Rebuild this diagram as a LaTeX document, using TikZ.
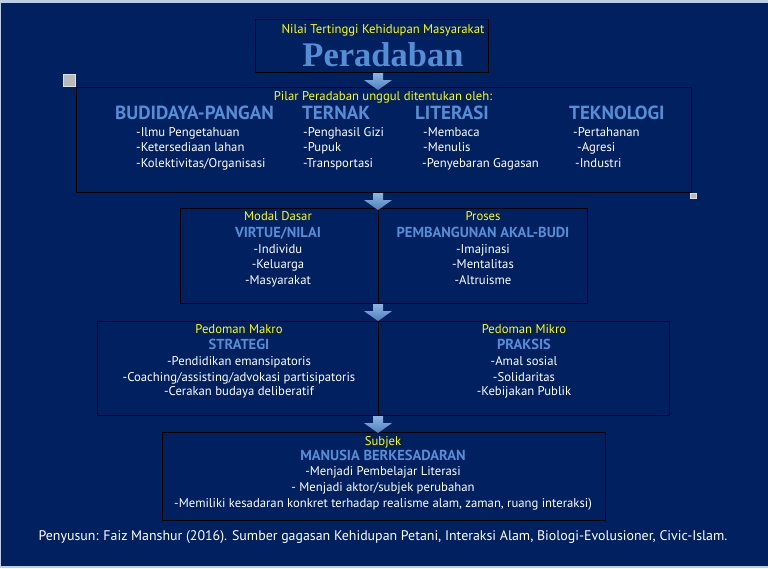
\documentclass[tikz,border=0pt]{standalone}
\usepackage{fontspec}
\setmainfont{PT Sans}
\newfontfamily\serifbold{Liberation Serif}
\definecolor{navy}{HTML}{002060}
\definecolor{edgeblue}{HTML}{BCCDE6}
\definecolor{hblue}{HTML}{558ED5}
\definecolor{ylw}{HTML}{FFFF00}
\definecolor{arrtop}{HTML}{8DB4E2}
\definecolor{arrbot}{HTML}{4F81BD}
\begin{document}
\begin{tikzpicture}[x=1pt,y=-1pt,
  box/.style={draw=black, line width=1pt, fill=navy, inner sep=0pt, anchor=north west},
  txt/.style={inner sep=0pt, text height=10pt, text depth=2pt},
  lab/.style={txt, text=ylw, font=\fontsize{12.7}{14}\selectfont},
  head/.style={inner sep=0pt, text height=11pt, text depth=1pt, text=hblue, font=\bfseries\fontsize{14.5}{16}\selectfont},
  bighead/.style={inner sep=0pt, text height=13pt, text depth=1pt, text=hblue, font=\bfseries\fontsize{19}{21}\selectfont, anchor=west},
  item/.style={txt, text=white, font=\fontsize{12.7}{14}\selectfont},
  itemw/.style={item, anchor=west},
  blockarrow/.style={top color=arrtop, bottom color=arrbot, draw=none},
  divider/.style={draw=black, line width=1pt},
  handle/.style={fill=gray!55, draw=gray!25, line width=0.8pt}
]
\useasboundingbox (0,0) rectangle (768,568);
\fill[edgeblue] (0,0) rectangle (768,568);
\fill[navy] (1,3) rectangle (768,566);

% boxes
\node[box, minimum width=233pt, minimum height=53pt] (b1) at (255,19) {};
\node[box, minimum width=615pt, minimum height=105pt] (b2) at (76,87) {};
\node[box, minimum width=407pt, minimum height=95pt] (b3) at (180,208) {};
\node[box, minimum width=572pt, minimum height=94pt] (b4) at (97,321) {};
\node[box, minimum width=443pt, minimum height=88pt] (b5) at (162,432) {};
\coordinate (ax) at (378,0);
\draw[divider] (b3.north -| ax) -- (b3.south -| ax);
\draw[divider] (b4.north -| ax) -- (b4.south -| ax);

% table handles
\filldraw[handle] (63,74) rectangle (75,86);
\filldraw[handle] (690,193) rectangle (696,198);

% top box
\node[lab] (t1) at (383,29) {Nilai Tertinggi Kehidupan Masyarakat};
\node[text=hblue, inner sep=0pt, font=\serifbold\bfseries\fontsize{34.5}{38}\selectfont] (t2) at (383,55) {Peradaban};

% box 2
\node[lab] (p0) at (383,96) {Pilar Peradaban unggul ditentukan oleh:};
\node[bighead] (h1) at (115,113) {BUDIDAYA-PANGAN};
\node[bighead] (h2) at (302,113) {TERNAK};
\node[bighead] (h3) at (415,113) {LITERASI};
\node[bighead] (h4) at (569,113) {TEKNOLOGI};
\node[itemw] (i11) at (136,132) {-Ilmu Pengetahuan};
\node[itemw] (i12) at (136,147) {-Ketersediaan lahan};
\node[itemw] (i13) at (136,163) {-Kolektivitas/Organisasi};
\node[itemw] (i21) at (303,132) {-Penghasil Gizi};
\node[itemw] (i22) at (303,147) {-Pupuk};
\node[itemw] (i23) at (303,163) {-Transportasi};
\node[itemw] (i31) at (423,132) {-Membaca};
\node[itemw] (i32) at (423,147) {-Menulis};
\node[itemw] (i33) at (422,163) {-Penyebaran Gagasan};
\node[itemw] (i41) at (573,132) {-Pertahanan};
\node[itemw] (i42) at (577,147) {-Agresi};
\node[itemw] (i43) at (575,163) {-Industri};

% box 3
\node[lab] (m0) at (278,216) {Modal Dasar};
\node[head] (m1) at (278,232) {VIRTUE/NILAI};
\node[item] (m2) at (278,249) {-Individu};
\node[item] (m3) at (278,264) {-Keluarga};
\node[item] (m4) at (278,280) {-Masyarakat};
\node[lab] (r0) at (483,216) {Proses};
\node[head] (r1) at (483,232) {PEMBANGUNAN AKAL-BUDI};
\node[item] (r2) at (483,249) {-Imajinasi};
\node[item] (r3) at (483,264) {-Mentalitas};
\node[item] (r4) at (483,280) {-Altruisme};

% box 4
\node[lab] (s0) at (239,329) {Pedoman Makro};
\node[head] (s1) at (239,344) {STRATEGI};
\node[item] (s2) at (239,361) {-Pendidikan emansipatoris};
\node[item] (s3) at (239,377) {-Coaching/assisting/advokasi partisipatoris};
\node[item] (s4) at (239,391) {-Cerakan budaya deliberatif};
\node[lab] (k0) at (524,329) {Pedoman Mikro};
\node[head] (k1) at (524,344) {PRAKSIS};
\node[item] (k2) at (524,361) {-Amal sosial};
\node[item] (k3) at (524,377) {-Solidaritas};
\node[item] (k4) at (524,391) {-Kebijakan Publik};

% box 5
\node[lab] (u0) at (383,441) {Subjek};
\node[head] (u1) at (383,455) {MANUSIA BERKESADARAN};
\node[item] (u2) at (383,471) {-Menjadi Pembelajar Literasi};
\node[item] (u3) at (383,487) {- Menjadi aktor/subjek perubahan};
\node[item] (u4) at (383,503) {-Memiliki kesadaran konkret terhadap realisme alam, zaman, ruang interaksi)};

% footer
\node[txt, text=white, font=\fontsize{13.9}{16}\selectfont] (foot) at (383,536) {Penyusun: Faiz Manshur (2016). Sumber gagasan Kehidupan Petani, Interaksi Alam, Biologi-Evolusioner, Civic-Islam.};

% block arrows between boxes
\shade[blockarrow] (b1.south -| ax) ++(-5,0) -- ++(0,7) -- ++(-9,0) -- ++(14,10) -- ++(14,-10) -- ++(-9,0) -- ++(0,-7) -- cycle;
\shade[blockarrow] (b2.south -| ax) ++(-5,0) -- ++(0,7) -- ++(-9,0) -- ++(14,10) -- ++(14,-10) -- ++(-9,0) -- ++(0,-7) -- cycle;
\shade[blockarrow] (b3.south -| ax) ++(-5,0) -- ++(0,7) -- ++(-9,0) -- ++(14,10) -- ++(14,-10) -- ++(-9,0) -- ++(0,-7) -- cycle;
\shade[blockarrow] (b4.south -| ax) ++(-5,0) -- ++(0,7) -- ++(-9,0) -- ++(14,10) -- ++(14,-10) -- ++(-9,0) -- ++(0,-7) -- cycle;
\end{tikzpicture}
\end{document}
